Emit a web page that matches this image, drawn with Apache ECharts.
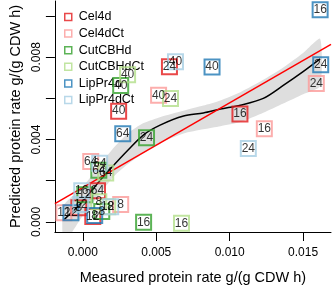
<!DOCTYPE html>
<html>
<head>
<meta charset="utf-8">
<script src="https://cdn.jsdelivr.net/npm/echarts@6/dist/echarts.min.js"></script>
<style>
html, body { margin: 0; padding: 0; background: #fff; }
#chart { width: 332px; height: 290px; }
</style>
</head>
<body>
<div id="chart"></div>
<script>
// strains and their colours (legend order)
var strainNames = ['Cel4d', 'Cel4dCt', 'CutCBHd', 'CutCBHdCt', 'LipPr4d', 'LipPr4dCt'];
var strainColors = ['#E31A1C', '#FB9A99', '#33A02C', '#B2DF8A', '#1F78B4', '#A6CEE3'];

// measured / predicted protein rate, label = hours
var cel4dMeasured = [0.0059, 0.00244, 0.0107, 0.0010, -0.00027, 0.00068];
var cel4dPredicted = [0.00754, 0.00538, 0.00524, 0.00151, 0.00069, 0.00026];
var cel4dHours = [24, 40, 16, 64, 8, 12];

var cel4dCtMeasured = [0.0159, 0.00516, 0.01236, 0.00054, 0.00258, -0.00129];
var cel4dCtPredicted = [0.00672, 0.00615, 0.00452, 0.00294, 0.00084, 0.00045];
var cel4dCtHours = [24, 40, 16, 64, 8, 12];

var cutCBHdMeasured = [0.00414, 0.00434, 0.00258, 0.00109, 0.00014, 0.00129];
var cutCBHdPredicted = [-0.00002, 0.00409, 0.00663, 0.00251, 0.00132, 0.0005];
var cutCBHdHours = [16, 24, 40, 64, 12, 8];

var cutCBHdCtMeasured = [0.00672, 0.00597, 0.00305, 0.00156, 0.00109, 0.0017];
var cutCBHdCtPredicted = [-0.00007, 0.006, 0.00715, 0.00237, 0.00098, 0.00074];
var cutCBHdCtHours = [16, 24, 40, 64, 8, 12];

var lipPr4dMeasured = [0.01616, 0.0162, 0.0088, 0.00272, -0.00081, 0.00081];
var lipPr4dPredicted = [0.01031, 0.00763, 0.00753, 0.00428, 0.00045, 0.00031];
var lipPr4dHours = [16, 24, 40, 64, 12, 8];

var lipPr4dCtMeasured = [0.01127, 0.00631, 0.00115, -0.00007, 0.0019, -0.00014];
var lipPr4dCtPredicted = [0.00356, 0.00778, 0.00285, 0.00151, 0.00074, 0.00084];
var lipPr4dCtHours = [24, 40, 64, 16, 8, 12];

// linear fit (red) end points
var fitX = [-0.0019, 0.0169];
var fitY = [0.00089, 0.00862];

// smooth fit (black) with confidence band
var smoothX = [-0.00129, 0.0, 0.00109, 0.0021, 0.00305, 0.00414, 0.0053, 0.00686, 0.00821, 0.00937, 0.01073, 0.01229, 0.01365, 0.015, 0.01616];
var smoothY = [0.0001, 0.001, 0.00194, 0.00275, 0.00347, 0.00423, 0.00471, 0.00514, 0.00529, 0.00548, 0.00567, 0.006, 0.00663, 0.0073, 0.00792];
var bandUpper = [0.0008, 0.0017, 0.0027, 0.0036, 0.0043, 0.0048, 0.0051, 0.0054, 0.00565, 0.0059, 0.0063, 0.0069, 0.0075, 0.0082, 0.0089];
var bandLower = [-0.001, 0.0003, 0.0013, 0.0022, 0.0028, 0.00335, 0.00385, 0.0043, 0.0045, 0.00465, 0.00485, 0.0053, 0.00575, 0.0062, 0.0066];

var xTicks = [0, 0.005, 0.01, 0.015];
var yTicks = [0, 0.002, 0.004, 0.006, 0.008, 0.01];
var yLabels = [0, 0.004, 0.008];

var strainMeasured = [cel4dMeasured, cel4dCtMeasured, cutCBHdMeasured, cutCBHdCtMeasured, lipPr4dMeasured, lipPr4dCtMeasured];
var strainPredicted = [cel4dPredicted, cel4dCtPredicted, cutCBHdPredicted, cutCBHdCtPredicted, lipPr4dPredicted, lipPr4dCtPredicted];
var strainHours = [cel4dHours, cel4dCtHours, cutCBHdHours, cutCBHdCtHours, lipPr4dHours, lipPr4dCtHours];

function zip(xs, ys) {
    var out = [];
    for (var i = 0; i < xs.length; i++) out.push([xs[i], ys[i]]);
    return out;
}

var font = 'Liberation Sans, Arial, sans-serif';

function drawChart() {
    var dom = document.getElementById('chart');
    var chart = echarts.init(dom, null, { renderer: 'canvas' });

    // band polygon: upper edge left->right, lower edge right->left
    function renderBand(params, api) {
        if (params.dataIndex !== 0) return;
        var pts = [];
        for (var i = 0; i < smoothX.length; i++) pts.push(api.coord([smoothX[i], bandUpper[i]]));
        for (var j = smoothX.length - 1; j >= 0; j--) pts.push(api.coord([smoothX[j], bandLower[j]]));
        return {
            type: 'polygon',
            shape: { points: pts, smooth: 0.2 },
            style: { fill: '#dedede', stroke: null }
        };
    }

    var series = [{
        name: 'band',
        type: 'custom',
        renderItem: renderBand,
        data: zip(smoothX, smoothY),
        clip: true,
        silent: true,
        z: 1
    }, {
        name: 'smooth',
        type: 'line',
        data: zip(smoothX, smoothY),
        symbol: 'none',
        smooth: 0.3,
        lineStyle: { color: '#000', width: 1.5 },
        silent: true,
        z: 2
    }, {
        name: 'fit',
        type: 'line',
        data: zip(fitX, fitY),
        symbol: 'none',
        lineStyle: { color: '#ff0000', width: 1.5 },
        silent: true,
        z: 3
    }];

    var legendData = [];
    for (var s = 0; s < strainNames.length; s++) {
        var pts = [];
        for (var k = 0; k < strainMeasured[s].length; k++) {
            pts.push([strainMeasured[s][k], strainPredicted[s][k], strainHours[s][k]]);
        }
        series.push({
            name: strainNames[s],
            type: 'scatter',
            data: pts,
            symbol: 'rect',
            symbolSize: 15,
            itemStyle: { color: 'rgba(0,0,0,0)', borderColor: strainColors[s], borderWidth: 2 },
            label: {
                show: true,
                position: 'inside',
                color: '#000',
                fontSize: 12,
                fontFamily: font,
                formatter: function(p) { return p.value[2]; }
            },
            silent: true,
            z: 4
        });
        legendData.push({
            name: strainNames[s],
            itemStyle: { color: 'rgba(0,0,0,0)', borderColor: strainColors[s], borderWidth: 1.5 }
        });
    }

    var option = {
        animation: false,
        backgroundColor: '#fff',
        grid: { left: 54, right: 1, top: 1, bottom: 55 },
        legend: {
            data: legendData,
            orient: 'vertical',
            left: 64,
            top: 10,
            padding: 0,
            itemWidth: 7,
            itemHeight: 7,
            itemGap: 2.6,
            icon: 'rect',
            selectedMode: false,
            textStyle: { fontSize: 12.5, fontFamily: font, color: '#000', lineHeight: 14, padding: [0, 0, 0, 2] }
        },
        xAxis: {
            type: 'value',
            min: -0.0019,
            max: 0.0169,
            name: 'Measured protein rate g/(g CDW h)',
            nameLocation: 'middle',
            nameGap: 38,
            nameTextStyle: { fontSize: 14.5, fontFamily: font, color: '#000' },
            axisLine: { show: true, onZero: false, lineStyle: { color: '#000', width: 1 } },
            axisTick: { show: true, length: 9, customValues: xTicks, lineStyle: { color: '#000' } },
            axisLabel: {
                customValues: xTicks,
                margin: 15,
                fontSize: 12,
                fontFamily: font,
                color: '#000',
                formatter: function(v) { return v.toFixed(3); }
            },
            splitLine: { show: false }
        },
        yAxis: {
            type: 'value',
            min: -0.00049,
            max: 0.01073,
            name: 'Predicted protein rate g/(g CDW h)',
            nameLocation: 'middle',
            nameGap: 29,
            nameTextStyle: { fontSize: 14.5, fontFamily: font, color: '#000' },
            axisLine: { show: true, onZero: false, lineStyle: { color: '#000', width: 1 } },
            axisTick: { show: true, length: 9, customValues: yTicks, lineStyle: { color: '#000' } },
            axisLabel: {
                customValues: yLabels,
                rotate: 90,
                margin: 12,
                fontSize: 12,
                fontFamily: font,
                color: '#000',
                formatter: function(v) { return v.toFixed(3); }
            },
            splitLine: { show: false }
        },
        series: series
    };
    chart.setOption(option);
}

drawChart();
</script>
</body>
</html>
